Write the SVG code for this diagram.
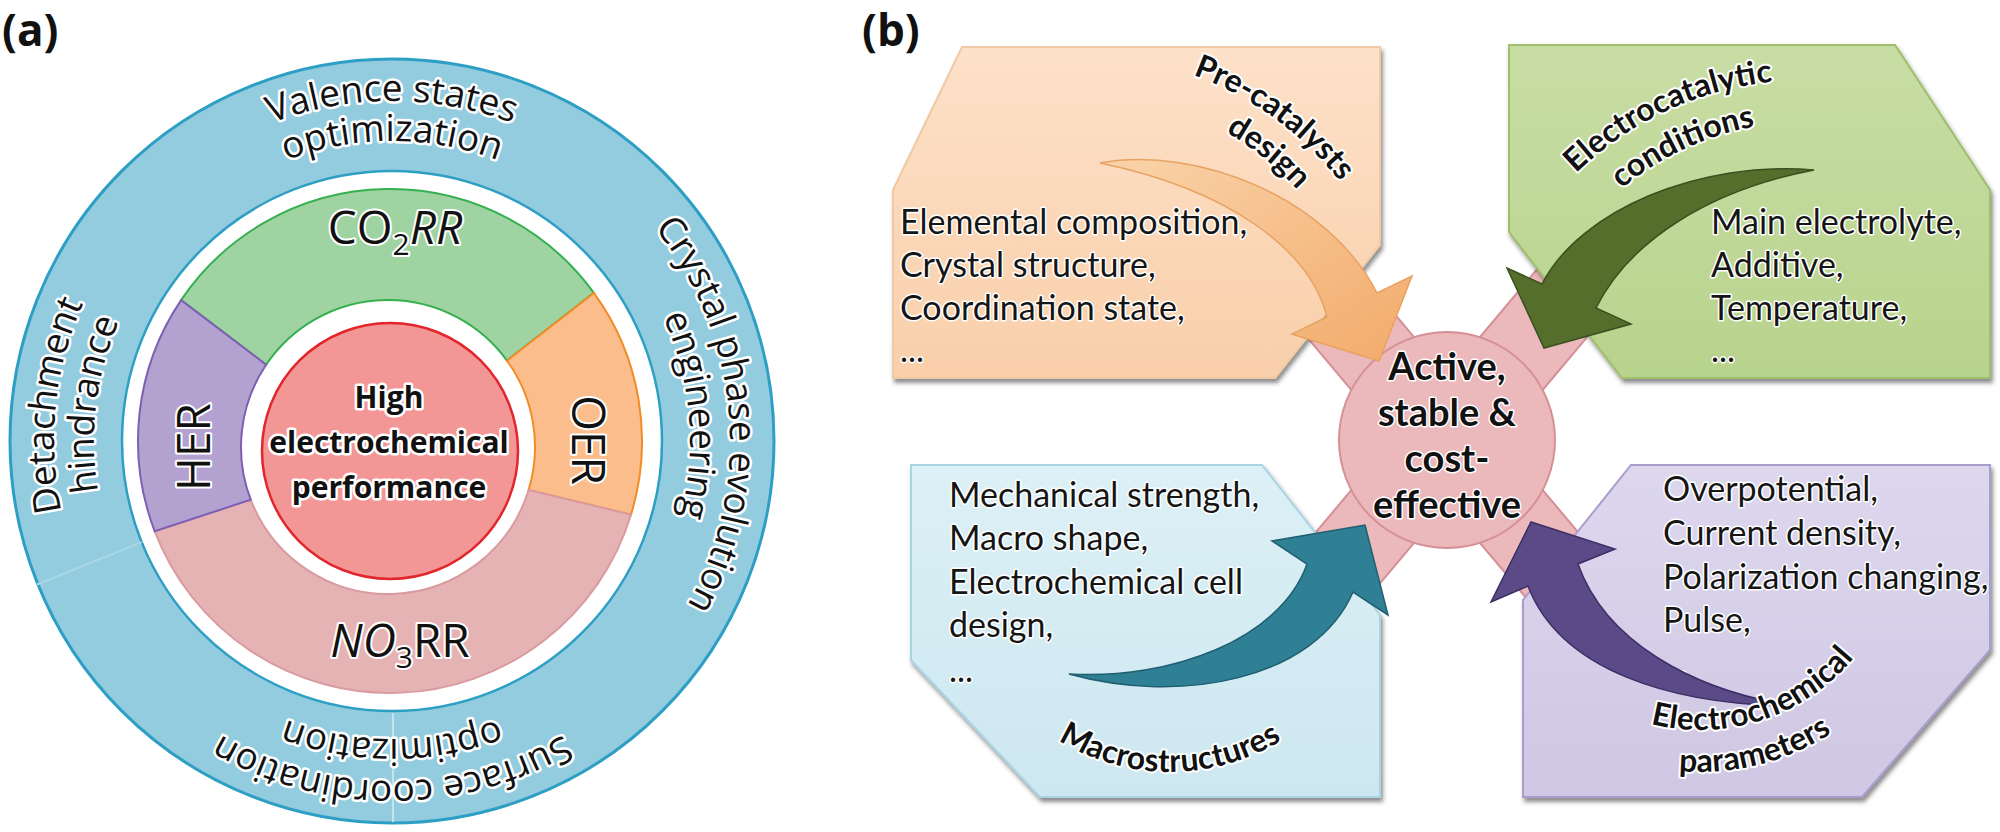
<svg xmlns="http://www.w3.org/2000/svg" width="2000" height="832" viewBox="0 0 2000 832">
<defs>
<style>
.lbl{font-family:'Open Sans','Liberation Sans',sans-serif;font-weight:bold;font-size:44px;fill:#111}
.ring{font-family:'Open Sans','Liberation Sans',sans-serif;font-size:37px;fill:#111;stroke:#fff;stroke-width:5px;stroke-linejoin:round;paint-order:stroke}
.seg{font-family:'Open Sans','Liberation Sans',sans-serif;font-size:46px;fill:#111;stroke:#fff;stroke-width:4px;stroke-linejoin:round;paint-order:stroke}
.ctrA{font-family:'Open Sans','Liberation Sans',sans-serif;font-weight:bold;font-size:30px;fill:#111;stroke:#fff;stroke-width:5px;stroke-linejoin:round;paint-order:stroke;text-anchor:middle}
.list{font-family:Lato,'Liberation Sans',sans-serif;font-size:34px;fill:#151515;stroke:#fff;stroke-width:3px;stroke-linejoin:round;paint-order:stroke}
.curv{font-family:Lato,'Liberation Sans',sans-serif;font-weight:bold;font-size:32px;fill:#111;stroke:#fff;stroke-width:4px;stroke-linejoin:round;paint-order:stroke}
.ctrB{font-family:Lato,'Liberation Sans',sans-serif;font-weight:bold;font-size:38px;fill:#111;stroke:#fff;stroke-width:3px;stroke-linejoin:round;paint-order:stroke;text-anchor:middle}
.box{filter:url(#sh)}
</style>
<filter id="sh" x="-5%" y="-5%" width="115%" height="120%"><feDropShadow dx="2" dy="4" stdDeviation="2" flood-color="#333" flood-opacity="0.55"/></filter>
<linearGradient id="gO" x1="0" y1="0" x2="0" y2="1"><stop offset="0" stop-color="#fde1c9"/><stop offset="1" stop-color="#f9cfaa"/></linearGradient>
<linearGradient id="gG" x1="0" y1="0" x2="0" y2="1"><stop offset="0" stop-color="#c8dda4"/><stop offset="1" stop-color="#b8d38d"/></linearGradient>
<linearGradient id="gB" x1="0" y1="0" x2="0" y2="1"><stop offset="0" stop-color="#dcf0f6"/><stop offset="1" stop-color="#cde7f0"/></linearGradient>
<linearGradient id="gP" x1="0" y1="0" x2="0" y2="1"><stop offset="0" stop-color="#ddd7ee"/><stop offset="1" stop-color="#cfc7e3"/></linearGradient>
<linearGradient id="gAO" x1="0" y1="0" x2="1" y2="1"><stop offset="0" stop-color="#fad3aa"/><stop offset="1" stop-color="#f2ab6a"/></linearGradient>
<path id="pV1" d="M57.16,381.96 A340,340 0 0 1 726.84,381.96"/>
<path id="pV2" d="M96.56,388.91 A300,300 0 0 1 687.44,388.91"/>
<path id="pC1" d="M421.46,104.29 A338,338 0 0 1 479.48,767.48"/>
<path id="pC2" d="M417.97,144.14 A298,298 0 0 1 469.13,728.85"/>
<path id="pS1" d="M726.84,500.04 A340,340 0 0 1 57.16,500.04"/>
<path id="pS2" d="M685.47,492.75 A298,298 0 0 1 98.53,492.75"/>
<path id="pD1" d="M298.83,765.91 A338,338 0 0 1 368.42,103.82"/>
<path id="pD2" d="M304.87,725.98 A298,298 0 0 1 376.40,143.41"/>
<path id="pPre1" d="M945.8,83.5 A330,330 0 0 1 1408.2,419.5"/>
<path id="pPre2" d="M975.4,112.4 A292,292 0 0 1 1368.4,430.7"/>
<path id="pEl1" d="M1477.3,381.2 A330,330 0 0 1 1995.3,139.7"/>
<path id="pEl2" d="M1519.1,384.9 A288,288 0 0 1 1971.2,174.1"/>
<path id="pMac" d="M970.8,632.5 A212,212 0 0 0 1369.2,632.5"/>
<path id="pEc1" d="M1542.4,653.1 A200,200 0 0 0 1899.9,537.0"/>
<path id="pEc2" d="M1499.4,665.3 A242,242 0 0 0 1940.7,555.3"/>
</defs>
<rect width="2000" height="832" fill="#fff"/>

<!-- Panel (a) -->
<text class="lbl" x="2" y="46">(a)</text>
<g id="outer-ring">
<circle cx="392" cy="441" r="382" fill="#93cbdf" stroke="#2e9fc4" stroke-width="3"/>
<circle cx="392" cy="441" r="270" fill="#fff" stroke="#2e9fc4" stroke-width="2.5"/>
<line x1="393" y1="713" x2="393" y2="822" stroke="#c3e4ee" stroke-width="2"/>
<line x1="141.7" y1="542.1" x2="37" y2="584.5" stroke="#a9d7e6" stroke-width="2"/>
</g>
<g id="ring-valence"><text class="ring" text-anchor="middle"><textPath href="#pV1" startOffset="50%">Valence states</textPath></text><text class="ring" text-anchor="middle"><textPath href="#pV2" startOffset="50%">optimization</textPath></text></g>
<g id="ring-crystal"><text class="ring" text-anchor="middle"><textPath href="#pC1" startOffset="50%">Crystal phase evolution</textPath></text><text class="ring" text-anchor="middle"><textPath href="#pC2" startOffset="50%">engineering</textPath></text></g>
<g id="ring-surface"><text class="ring" text-anchor="middle"><textPath href="#pS1" startOffset="50%">Surface coordination</textPath></text><text class="ring" text-anchor="middle"><textPath href="#pS2" startOffset="50%">optimization</textPath></text></g>
<g id="ring-detach"><text class="ring" text-anchor="middle"><textPath href="#pD1" startOffset="50%">Detachment</textPath></text><text class="ring" text-anchor="middle"><textPath href="#pD2" startOffset="50%">hindrance</textPath></text></g>

<g id="seg-co2rr">
<path d="M181.09,300.08 A252,252 0 0 1 593.87,292.87 L506.92,360.60 A147,147 0 0 0 266.14,364.80 Z" fill="#9fd3a2" stroke="#34b04f" stroke-width="2"/>
<text class="seg" x="395" y="244" text-anchor="middle">CO<tspan font-size="30" dy="11">2</tspan><tspan dy="-11" font-style="italic">RR</tspan></text>
</g>
<g id="seg-oer">
<path d="M593.87,292.87 A252,252 0 0 1 630.99,514.68 L528.58,489.98 A147,147 0 0 0 506.92,360.60 Z" fill="#fbbd8b" stroke="#f28c25" stroke-width="2"/>
<text class="seg" transform="translate(572,440) rotate(90)" text-anchor="middle">OER</text>
</g>
<g id="seg-no3rr">
<path d="M630.99,514.68 A252,252 0 0 1 154.73,531.32 L250.76,499.68 A147,147 0 0 0 528.58,489.98 Z" fill="#e6b3b4" stroke="#d99aa0" stroke-width="2"/>
<text class="seg" x="400" y="657" text-anchor="middle"><tspan font-style="italic">NO</tspan><tspan font-size="30" dy="11">3</tspan><tspan dy="-11">RR</tspan></text>
</g>
<g id="seg-her">
<path d="M154.73,531.32 A252,252 0 0 1 181.09,300.08 L266.14,364.80 A147,147 0 0 0 250.76,499.68 Z" fill="#b3a2d0" stroke="#7d5fb6" stroke-width="2"/>
<text class="seg" transform="translate(210,447) rotate(-90)" text-anchor="middle">HER</text>
</g>
<g id="center-a">
<circle cx="390" cy="451" r="128" fill="#f39696" stroke="#e2262c" stroke-width="2.5"/>
<text class="ctrA" x="389" y="408">High</text>
<text class="ctrA" x="389" y="453">electrochemical</text>
<text class="ctrA" x="389" y="498">performance</text>
</g>

<!-- Panel (b) -->
<text class="lbl" x="862" y="46">(b)</text>
<g id="hub">
<g stroke="#d58f96" stroke-width="84">
<line x1="1299" y1="264" x2="1595" y2="616"/>
<line x1="1595" y1="264" x2="1299" y2="616"/>
</g>
<g stroke="#ebb8bb" stroke-width="80">
<line x1="1299" y1="264" x2="1595" y2="616"/>
<line x1="1595" y1="264" x2="1299" y2="616"/>
</g>
<circle cx="1447" cy="440" r="108" fill="#ebb8bb" stroke="#d58f96" stroke-width="2"/>
</g>
<g id="box-precat">
<polygon class="box" points="893,190 962,47 1380,47 1380,245 1275,378 893,378" fill="url(#gO)" stroke="#f0c9a5" stroke-width="2"/>
<text class="list" x="900" y="234">Elemental composition,</text>
<text class="list" x="900" y="277">Crystal structure,</text>
<text class="list" x="900" y="320">Coordination state,</text>
<text class="list" x="900" y="362">...</text>
</g>
<g id="box-electrocat">
<polygon class="box" points="1509,45 1895,45 1990,190 1990,378 1622,378 1509,232" fill="url(#gG)" stroke="#9fbf6a" stroke-width="2"/>
<text class="list" x="1711" y="234">Main electrolyte,</text>
<text class="list" x="1711" y="277">Additive,</text>
<text class="list" x="1711" y="320">Temperature,</text>
<text class="list" x="1711" y="362">...</text>
</g>
<g id="box-macro">
<polygon class="box" points="911,465 1262,465 1380,615 1380,797 1040,797 911,660" fill="url(#gB)" stroke="#a9d5e3" stroke-width="2"/>
<text class="list" x="949" y="507">Mechanical strength,</text>
<text class="list" x="949" y="550">Macro shape,</text>
<text class="list" x="949" y="594">Electrochemical cell</text>
<text class="list" x="949" y="637">design,</text>
<text class="list" x="949" y="682">...</text>
</g>
<g id="box-echem">
<polygon class="box" points="1631,465 1990,465 1990,650 1862,797 1523,797 1523,600" fill="url(#gP)" stroke="#a99dcc" stroke-width="2"/>
<text class="list" x="1663" y="501">Overpotential,</text>
<text class="list" x="1663" y="545">Current density,</text>
<text class="list" x="1663" y="589">Polarization changing,</text>
<text class="list" x="1663" y="632">Pulse,</text>
<text class="list" x="1663" y="676">...</text>
</g>
<g id="hub-text">
<text class="ctrB" x="1447" y="380">Active,</text>
<text class="ctrB" x="1447" y="426">stable &amp;</text>
<text class="ctrB" x="1447" y="472">cost-</text>
<text class="ctrB" x="1447" y="518">effective</text>
</g>
<g id="connectors">
<path d="M1100,163 C1200,145 1330,200 1377,293 L1412,276 L1379,361 L1292,334 L1327,317 C1310,250 1230,190 1100,163 Z" fill="url(#gAO)" stroke="#e8a262" stroke-width="1.5"/>
<path d="M1814,170 C1700,160 1580,210 1542,284 L1507,268 L1544,348 L1631,324 L1596,308 C1630,240 1710,190 1814,170 Z" fill="#556e2c" stroke="#3a5020" stroke-width="1.5"/>
<path d="M1069,674 C1180,705 1315,680 1353,592 L1388,615 L1365,525 L1272,541 L1307,564 C1280,640 1170,680 1069,674 Z" fill="#2f7f95" stroke="#1f5f70" stroke-width="1.5"/>
<path d="M1794,706 C1670,705 1560,670 1528,586 L1491,602 L1531,522 L1615,549 L1578,564 C1605,640 1690,690 1794,706 Z" fill="#5a4a88" stroke="#3d2f66" stroke-width="1.5"/>
</g>
<g id="arrow-labels">
<text class="curv" fill="#3b1a0b" text-anchor="middle"><textPath href="#pPre1" startOffset="50%">Pre-catalysts</textPath></text>
<text class="curv" fill="#3b1a0b" text-anchor="middle"><textPath href="#pPre2" startOffset="50%">design</textPath></text>
<text class="curv" text-anchor="middle"><textPath href="#pEl1" startOffset="50%">Electrocatalytic</textPath></text>
<text class="curv" text-anchor="middle"><textPath href="#pEl2" startOffset="50%">conditions</textPath></text>
<text class="curv" text-anchor="middle"><textPath href="#pMac" startOffset="50%">Macrostructures</textPath></text>
<text class="curv" text-anchor="middle"><textPath href="#pEc1" startOffset="50%">Electrochemical</textPath></text>
<text class="curv" text-anchor="middle"><textPath href="#pEc2" startOffset="50%">parameters</textPath></text>
</g>
</svg>
